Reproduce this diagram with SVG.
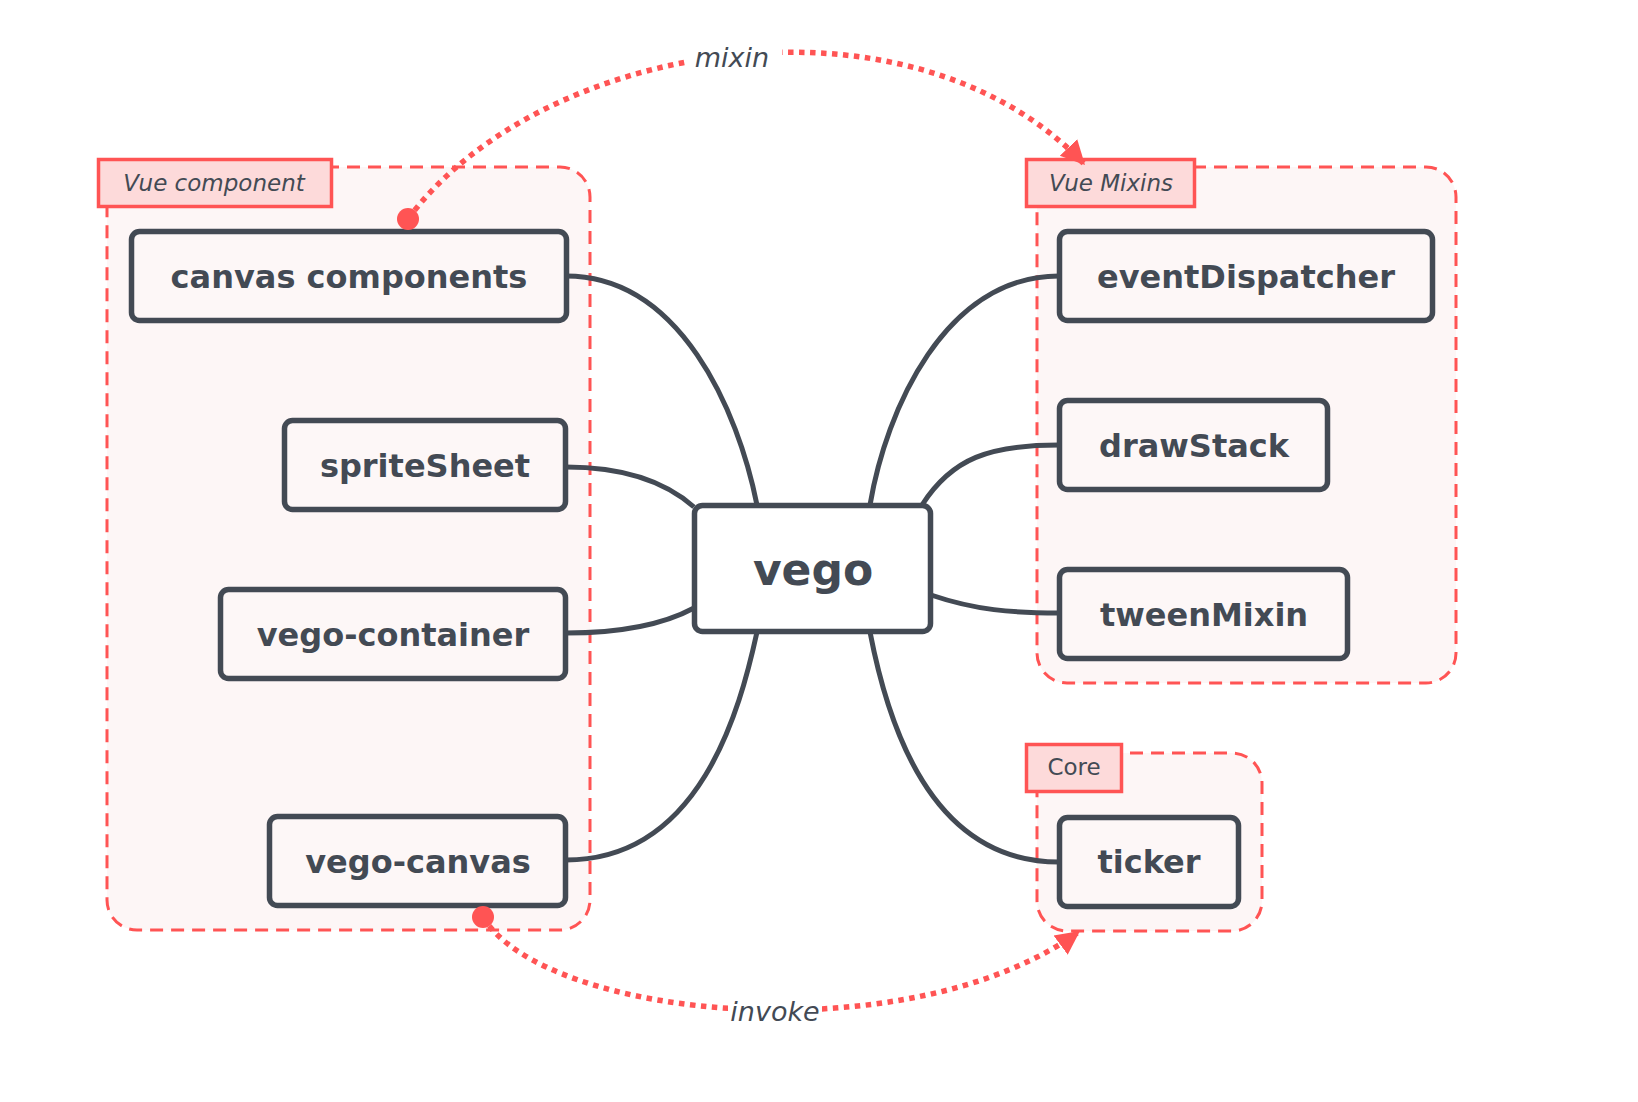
<svg xmlns="http://www.w3.org/2000/svg" width="1638" height="1102" viewBox="0 0 1638 1102">
<defs>
<style>
.grp{fill:#fdf6f6;stroke:#ff5454;stroke-width:3;stroke-dasharray:13 8}
.glab{fill:#fddada;stroke:#ff5454;stroke-width:3.5}
.gtxt{font-family:"DejaVu Sans",sans-serif;font-size:23px;fill:#434a54}
.node{fill:#fdf7f7;stroke:#434a54;stroke-width:5.5}
.ntxt{font-family:"DejaVu Sans",sans-serif;font-weight:bold;font-size:32px;fill:#434a54;text-anchor:middle}
.conn{fill:none;stroke:#434a54;stroke-width:5}
.rel{fill:none;stroke:#ff5454;stroke-width:5.5;stroke-dasharray:5.5 5.5}
.rtxt{font-family:"DejaVu Sans",sans-serif;font-style:italic;font-size:27px;fill:#434a54;text-anchor:middle}
</style>
<marker id="arr" markerUnits="userSpaceOnUse" markerWidth="26" markerHeight="26" viewBox="0 0 26 26" refX="24" refY="13" orient="auto">
<path d="M0,1 L24,13 L0,25 z" fill="#ff5454"/>
</marker>
</defs>
<rect width="1638" height="1102" fill="#ffffff"/>

<g id="group-vue-component">
<rect class="grp" x="107" y="167" width="483" height="763" rx="30"/>
<rect class="glab" x="98.5" y="159.5" width="233" height="47"/>
<text class="gtxt" x="214" y="191" text-anchor="middle" font-style="italic">Vue component</text>
</g>
<g id="group-vue-mixins">
<rect class="grp" x="1037" y="167" width="419" height="516" rx="30"/>
<rect class="glab" x="1026.5" y="159.5" width="168" height="47"/>
<text class="gtxt" x="1111" y="191" text-anchor="middle" font-style="italic">Vue Mixins</text>
</g>
<g id="group-core">
<rect class="grp" x="1037" y="753" width="225" height="178" rx="30"/>
<rect class="glab" x="1026.5" y="744.5" width="95" height="47"/>
<text class="gtxt" x="1074" y="775" text-anchor="middle">Core</text>
</g>

<g id="connectors">
<path class="conn" d="M566,276 C680,276 738,410 757,505"/>
<path class="conn" d="M566,467 C630,467 668,484 694,507"/>
<path class="conn" d="M566,633 C630,633 668,622 694,608"/>
<path class="conn" d="M566,860 C700,860 740,710 757,632"/>
<path class="conn" d="M1059,276 C945,276 886,410 870,505"/>
<path class="conn" d="M1059,445 C990,445 952,458 922,505"/>
<path class="conn" d="M931,595 C975,610 1012,613 1059,613"/>
<path class="conn" d="M1059,862 C925,862 885,710 870,632"/>
</g>

<g id="node-canvas-components">
<rect class="node" x="131.5" y="231.5" width="435" height="89" rx="8"/>
<text class="ntxt" x="349" y="288">canvas components</text>
</g>
<g id="node-spriteSheet">
<rect class="node" x="284.5" y="420.5" width="281" height="89" rx="8"/>
<text class="ntxt" x="425" y="477">spriteSheet</text>
</g>
<g id="node-vego-container">
<rect class="node" x="220.5" y="589.5" width="345" height="89" rx="8"/>
<text class="ntxt" x="393" y="646">vego-container</text>
</g>
<g id="node-vego-canvas">
<rect class="node" x="269.5" y="816.5" width="296" height="89" rx="8"/>
<text class="ntxt" x="418" y="873">vego-canvas</text>
</g>
<g id="node-eventDispatcher">
<rect class="node" x="1059.5" y="231.5" width="373" height="89" rx="8"/>
<text class="ntxt" x="1246" y="288">eventDispatcher</text>
</g>
<g id="node-drawStack">
<rect class="node" x="1059.5" y="400.5" width="268" height="89" rx="8"/>
<text class="ntxt" x="1194" y="457">drawStack</text>
</g>
<g id="node-tweenMixin">
<rect class="node" x="1059.5" y="569.5" width="288" height="89" rx="8"/>
<text class="ntxt" x="1204" y="626">tweenMixin</text>
</g>
<g id="node-ticker">
<rect class="node" x="1059.5" y="817.5" width="179" height="89" rx="8"/>
<text class="ntxt" x="1149" y="873">ticker</text>
</g>
<g id="node-vego">
<rect class="node" x="694.5" y="505.5" width="236" height="126" rx="8" style="fill:#ffffff"/>
<text class="ntxt" x="813" y="585" style="font-size:44px">vego</text>
</g>

<g id="relations">
<path class="rel" d="M408,219 C540,40 910,-20 1085,165" marker-end="url(#arr)"/>
<circle cx="408" cy="219" r="11" fill="#ff5454"/>
<rect x="688" y="38" width="94" height="38" fill="#ffffff"/>
<text class="rtxt" x="732" y="67">mixin</text>
<path class="rel" d="M483,917 C545,1020 910,1055 1080,931" marker-end="url(#arr)"/>
<circle cx="483" cy="917" r="11" fill="#ff5454"/>
<rect x="728" y="994" width="94" height="38" fill="#ffffff"/>
<text class="rtxt" x="775" y="1021">invoke</text>
</g>
</svg>
